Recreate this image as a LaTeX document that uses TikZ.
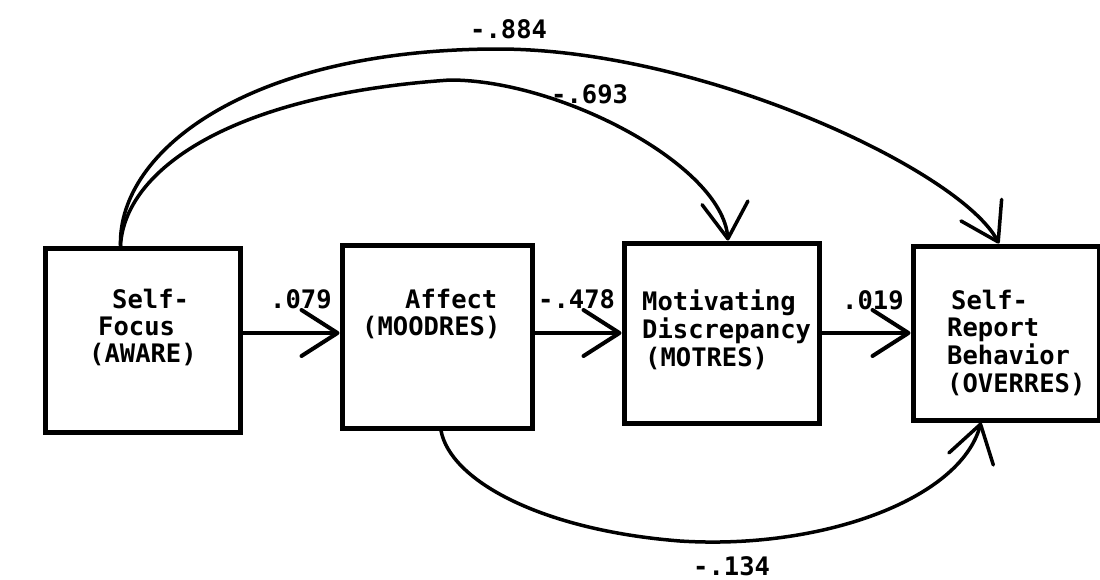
\documentclass[tikz,border=0pt]{standalone}
\usepackage{fontspec}
\newfontfamily\monofnt{DejaVu Sans Mono}
\usetikzlibrary{arrows.meta,calc}
\begin{document}
\begin{tikzpicture}[x=1pt,y=-1pt,
  box/.style={draw,rectangle,line width=5pt,inner sep=0pt},
  lbl/.style={anchor=base west,inner sep=0pt,font=\monofnt\bfseries\fontsize{25.5}{27}\selectfont},
  harrow/.style={line width=4pt,line cap=round,-{Straight Barb[length=36pt,width=46pt,round]}},
  carrow/.style={line width=3.5pt,line cap=round,-{Straight Barb[length=36pt,width=46pt,round]}}]
\useasboundingbox (0,0) rectangle (1100,579);
\fill[white] (0,0) rectangle (1100,579);
% boxes
\node[box,minimum width=195pt,minimum height=184pt] (b1) at (142.5,340) {};
\node[box,minimum width=190pt,minimum height=183pt] (b2) at (437,336.5) {};
\node[box,minimum width=195pt,minimum height=180pt] (b3) at (721.5,333) {};
\node[box,minimum width=186pt,minimum height=174pt] (b4) at (1006,333) {};
% box texts
\node[lbl] (t1) at (89,308) {\begin{tabular}[t]{@{}l@{}}\hspace{23pt}Self-\\\hspace{9pt}Focus\\(AWARE)\end{tabular}};
\node[lbl] (t2) at (362,308) {\begin{tabular}[t]{@{}l@{}}\hspace{43pt}Affect\\(MOODRES)\end{tabular}};
\node[lbl] (t3) at (642,310) {\begin{tabular}[t]{@{}l@{}}Motivating\\Discrepancy\\\hspace{3pt}(MOTRES)\end{tabular}};
\node[lbl] (t4) at (947,309) {\begin{tabular}[t]{@{}l@{}}\hspace{4pt}Self-\\Report\\Behavior\\(OVERRES)\end{tabular}};
% coefficient labels
\node[lbl] (l1) at (270,308) {.079};
\node[lbl] (l2) at (538,308) {-.478};
\node[lbl] (l3) at (842,309) {.019};
\node[lbl] (l4) at (470,38) {-.884};
\node[lbl] (l5) at (551,103) {-.693};
\node[lbl] (l6) at (693,575) {-.134};
% horizontal paths
\draw[harrow] ([yshift=7pt]b1.east) -- ([yshift=3.5pt]b2.west);
\draw[harrow] ([yshift=3.5pt]b2.east) -- (b3.west);
\draw[harrow] (b3.east) -- (b4.west);
% curved paths
\coordinate (po) at (495,49);
\coordinate (pi) at (450,80);
\coordinate (pb) at (680,541);
\draw[carrow] ([xshift=-22pt]b1.north) .. controls (118,150) and (250,50) .. (po)
   .. controls (700,48) and (960,170) .. ([xshift=-7pt]b4.north);
\draw[carrow] ([xshift=-22pt]b1.north) .. controls (125,170) and (230,95) .. (pi)
   .. controls (560,80) and (722,165) .. ([xshift=6.5pt]b3.north);
\draw[carrow] ([xshift=4pt]b2.south) .. controls (450,480) and (540,530) .. (pb)
   .. controls (820,550) and (960,500) .. ([xshift=-25pt]b4.south);
\end{tikzpicture}
\end{document}
